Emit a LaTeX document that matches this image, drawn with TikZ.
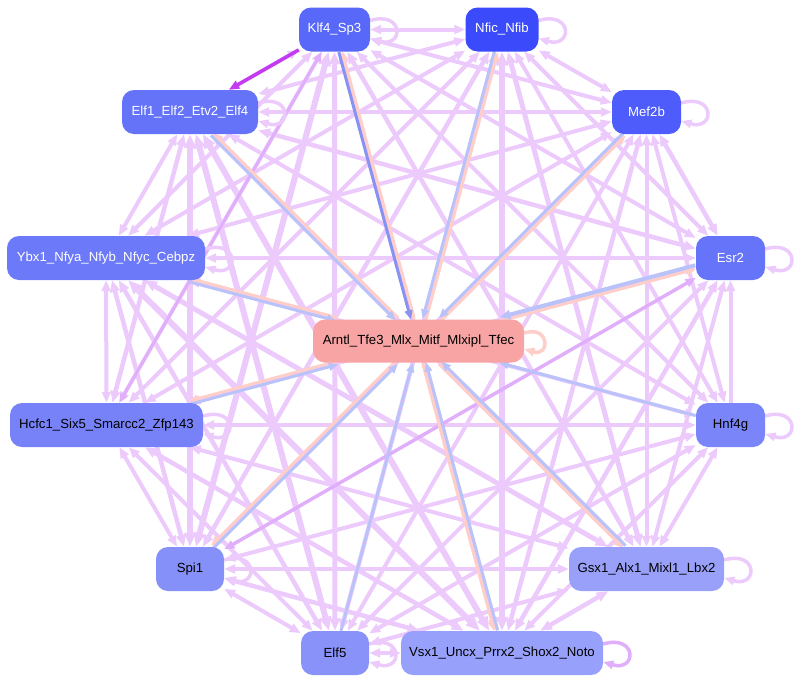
\documentclass[tikz,border=0pt]{standalone}
\usepackage{fontspec}
\setmainfont{Liberation Sans}
\usetikzlibrary{arrows.meta,backgrounds}
\definecolor{lav}{RGB}{236,202,252}
\definecolor{lavd}{RGB}{224,174,250}
\definecolor{eblue}{RGB}{186,194,250}
\definecolor{esal}{RGB}{255,206,200}
\definecolor{dblue}{RGB}{136,146,242}
\definecolor{mag}{RGB}{196,58,240}
\definecolor{cklf}{RGB}{88,104,249}
\definecolor{cnfic}{RGB}{59,75,251}
\definecolor{cmef}{RGB}{77,92,250}
\definecolor{celfa}{RGB}{101,115,249}
\definecolor{cybx}{RGB}{108,121,248}
\definecolor{cesr}{RGB}{102,116,249}
\definecolor{chcfc}{RGB}{119,130,248}
\definecolor{chnf}{RGB}{122,133,249}
\definecolor{cspi}{RGB}{134,144,249}
\definecolor{celfb}{RGB}{136,146,249}
\definecolor{cgsx}{RGB}{152,160,250}
\definecolor{cvsx}{RGB}{151,160,250}
\definecolor{carn}{RGB}{249,164,164}
\tikzset{
  tf/.style={rounded corners=12pt, minimum height=44pt, inner sep=0pt,
    font=\fontsize{13.2}{15}\selectfont, text=white},
  tfd/.style={tf, text=black},
  arr/.style={-{Triangle[length=5pt 1.5,width=4pt 1.2]}},
  arrboth/.style={{Triangle[length=5pt 1.5,width=4pt 1.2]}-{Triangle[length=5pt 1.5,width=4pt 1.2]}},
  mesh/.style={arrboth, lav, line width=4pt},
  sal/.style={arr, esal, line width=3pt},
  blu/.style={arr, eblue, line width=3pt},
  selfloop/.style={arr, lav, line width=3.5pt},
}
\begin{document}
\begin{tikzpicture}[x=1pt,y=-1pt]
\useasboundingbox (0,0) rectangle (796,683);
% nodes
\node[tf, fill=cklf, minimum width=71pt] (klf) at (334.5,29.5) {Klf4\_Sp3};
\node[tf, fill=cnfic, minimum width=73pt] (nfic) at (502,29.5) {Nfic\_Nfib};
\node[tf, fill=cmef, minimum width=69pt] (mef) at (646.5,112) {Mef2b};
\node[tf, fill=celfa, minimum width=136pt] (elfa) at (190,112) {Elf1\_Elf2\_Etv2\_Elf4};
\node[tf, fill=cybx, minimum width=198pt] (ybx) at (106,258) {Ybx1\_Nfya\_Nfyb\_Nfyc\_Cebpz};
\node[tf, fill=cesr, minimum width=69pt] (esr) at (730.5,258) {Esr2};
\node[tfd, fill=carn, minimum width=211pt, minimum height=43pt] (arn) at (418.5,341) {Arntl\_Tfe3\_Mlx\_Mitf\_Mlxipl\_Tfec};
\node[tfd, fill=chcfc, minimum width=193pt] (hcfc) at (106.5,425) {Hcfc1\_Six5\_Smarcc2\_Zfp143};
\node[tfd, fill=chnf, minimum width=69pt] (hnf) at (730.5,425) {Hnf4g};
\node[tfd, fill=cspi, minimum width=68pt] (spi) at (190,569) {Spi1};
\node[tfd, fill=cgsx, minimum width=155pt] (gsx) at (646.5,569) {Gsx1\_Alx1\_Mixl1\_Lbx2};
\node[tfd, fill=celfb, minimum width=68pt] (elfb) at (335,653) {Elf5};
\node[tfd, fill=cvsx, minimum width=202pt] (vsx) at (502,653) {Vsx1\_Uncx\_Prrx2\_Shox2\_Noto};
\begin{scope}[on background layer]
% outer mesh
\foreach \a/\b/\w in {
  klf/nfic/4, klf/mef/4, klf/esr/4, klf/hnf/4, klf/gsx/4.5, klf/vsx/4.5,
  klf/elfb/5, klf/spi/6, klf/hcfc/4, klf/ybx/4, klf/elfa/4,
  nfic/mef/4, nfic/esr/4, nfic/hnf/4, nfic/gsx/5, nfic/vsx/6, nfic/elfb/4.5,
  nfic/spi/4.5, nfic/hcfc/4, nfic/ybx/4, nfic/elfa/4,
  mef/esr/4.5, mef/hnf/4, mef/gsx/4, mef/vsx/4.5, mef/elfb/4, mef/spi/4.5,
  mef/hcfc/4, mef/ybx/4, mef/elfa/4,
  esr/gsx/4, esr/vsx/4.5, esr/elfb/4, esr/hcfc/4, esr/ybx/4, esr/elfa/4.5,
  hnf/gsx/4, hnf/vsx/4, hnf/elfb/4, hnf/spi/4, hnf/hcfc/4, hnf/ybx/4, hnf/elfa/4,
  gsx/vsx/4.5, gsx/elfb/4, gsx/spi/4, gsx/hcfc/4, gsx/ybx/5, gsx/elfa/4.5,
  vsx/elfb/4, vsx/spi/4.5, vsx/hcfc/4.5, vsx/ybx/6, vsx/elfa/6,
  elfb/spi/4, elfb/hcfc/4, elfb/ybx/4.5, elfb/elfa/6,
  spi/hcfc/4, spi/ybx/4.5, spi/elfa/6,
  hcfc/ybx/4, hcfc/elfa/4.5,
  ybx/elfa/4}
  \draw[mesh, line width=\w pt] (\a) -- (\b);
\draw[arr, lav, line width=4pt] (hnf) -- (esr);
\draw[arrboth, lavd, line width=3.5pt] (spi) -- (esr);
\draw[arrboth, lavd, line width=3pt] (hcfc) -- (klf);
\draw[arr, mag, line width=3.5pt] (klf) -- (elfa);
% self loops
\foreach \n in {klf,nfic,mef,elfa,esr,hnf,gsx,elfb,spi,hcfc,ybx}
  \draw[selfloop] ([yshift=9pt]\n.east) .. controls +(34,-10) and +(34,10) .. ([yshift=-9pt]\n.east);
\draw[selfloop, lavd] ([yshift=9pt]vsx.east) .. controls +(34,-10) and +(34,10) .. ([yshift=-9pt]vsx.east);
\draw[arr, esal, line width=3.5pt] ([yshift=8pt]arn.east) .. controls +(26,-8) and +(26,8) .. ([yshift=-8pt]arn.east);
% center edges
\foreach \n/\px/\py in {klf/0.966/-0.259, nfic/0.966/0.26, mef/0.709/0.706,
  esr/0.257/0.966, gsx/-0.707/0.707, vsx/-0.966/0.26, spi/-0.707/-0.707,
  hcfc/-0.26/-0.966, ybx/0.257/-0.966, elfa/0.709/-0.706}{
  \draw[sal, transform canvas={shift={(1.7*\px,1.7*\py)}}] (arn) -- (\n);
}
\foreach \n/\px/\py in {nfic/0.966/0.26, mef/0.709/0.706,
  gsx/-0.707/0.707, vsx/-0.966/0.26, spi/-0.707/-0.707,
  hcfc/-0.26/-0.966, ybx/0.257/-0.966, elfa/0.709/-0.706}{
  \draw[blu, transform canvas={shift={(-1.7*\px,-1.7*\py)}}] (\n) -- (arn);
}
\draw[blu, line width=4pt, transform canvas={shift={(-2*0.257,-2*0.966)}}] (esr) -- (arn);
\draw[arr, dblue, line width=3pt, transform canvas={shift={(-1.7*0.966,1.7*0.259)}}] (klf) -- (arn);
\draw[blu] (hnf) -- (arn);
\draw[blu] (elfb) -- (arn);
\end{scope}
\end{tikzpicture}
\end{document}
